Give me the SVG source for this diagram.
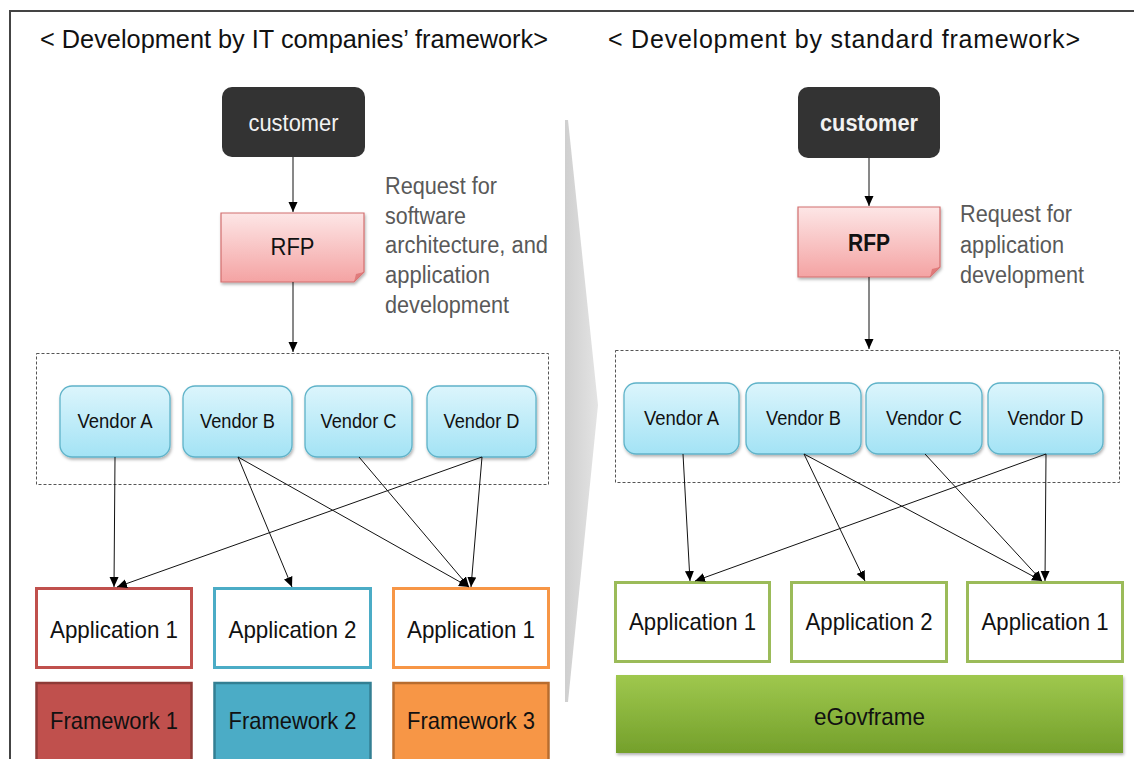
<svg xmlns="http://www.w3.org/2000/svg" width="1134" height="759" viewBox="0 0 1134 759">
<style>
text{font-family:"Liberation Sans",Arial,sans-serif;}
.title{font-size:25px;fill:#111;}
.cust{fill:#333333;}
.custt{font-size:23px;fill:#f2f2f2;text-anchor:middle;}
.rfp{fill:url(#gRfp);stroke:#d26f6f;stroke-width:1.2;}
.fold{fill:#e07b7b;}
.rfpt{font-size:23px;fill:#111;text-anchor:middle;}
.req{font-size:23px;fill:#595959;}
.dash{fill:none;stroke:#555;stroke-width:1;stroke-dasharray:3,2;}
.ven{fill:url(#gVen);stroke:#5fb3c9;stroke-width:1.3;}
.vent{font-size:20px;fill:#111;text-anchor:middle;}
.app{fill:#fff;stroke-width:3;}
.appt{font-size:24px;fill:#111;text-anchor:middle;}
.fw{stroke-width:2.5;}
.conn line{stroke:#111;stroke-width:1;marker-end:url(#ah);}
</style>
<defs>
<linearGradient id="gRfp" x1="0" y1="0" x2="0" y2="1"><stop offset="0" stop-color="#fde6e6"/><stop offset="1" stop-color="#f4a3a3"/></linearGradient>
<linearGradient id="gVen" x1="0" y1="0" x2="0" y2="1"><stop offset="0" stop-color="#dcf5fc"/><stop offset="1" stop-color="#a3e3f5"/></linearGradient>
<linearGradient id="gEgov" x1="0" y1="0" x2="0" y2="1"><stop offset="0" stop-color="#9fc84e"/><stop offset="1" stop-color="#74a02b"/></linearGradient>
<linearGradient id="gChev" x1="0" y1="0" x2="1" y2="0"><stop offset="0" stop-color="#cfcfcf"/><stop offset="1" stop-color="#e4e4e4"/></linearGradient>
<filter id="sh" x="-10%" y="-10%" width="130%" height="140%"><feDropShadow dx="1" dy="2" stdDeviation="1.5" flood-color="#000" flood-opacity="0.3"/></filter>
<marker id="ah" markerUnits="userSpaceOnUse" markerWidth="12" markerHeight="10" refX="10" refY="4.5" orient="auto"><path d="M0,0 L10,4.5 L0,9 Z" fill="#000"/></marker>
</defs>
<rect width="1134" height="759" fill="#fff"/>
<g id="frame"><path d="M1134,11 H10 V759" fill="none" stroke="#444" stroke-width="2"/></g>
<g id="divider"><polygon points="565,120 568,120 598,405 568,702 565,702" fill="url(#gChev)"/></g>
<g id="titles">
<text class="title" x="40" y="48" textLength="508" lengthAdjust="spacingAndGlyphs">&lt; Development by IT companies’ framework&gt;</text>
<text class="title" x="608" y="48" textLength="472" lengthAdjust="spacing">&lt; Development by standard framework&gt;</text>
</g>
<!-- Left side -->
<g id="l-customer"><rect class="cust" x="222" y="87" width="143" height="70" rx="10"/><text class="custt" x="293.5" y="131" textLength="90" lengthAdjust="spacingAndGlyphs">customer</text></g>
<g id="l-rfp"><path class="rfp" d="M221,213 H364 V272 L354,282 H221 Z" filter="url(#sh)"/><path class="fold" d="M364,272 L354,282 L356,274 Z"/><text class="rfpt" x="292.5" y="255" textLength="44" lengthAdjust="spacingAndGlyphs">RFP</text></g>
<g id="l-request">
<text class="req" x="385" y="194" textLength="112" lengthAdjust="spacingAndGlyphs">Request for</text>
<text class="req" x="385" y="224" textLength="81" lengthAdjust="spacingAndGlyphs">software</text>
<text class="req" x="385" y="253" textLength="163" lengthAdjust="spacingAndGlyphs">architecture, and</text>
<text class="req" x="385" y="283" textLength="105" lengthAdjust="spacingAndGlyphs">application</text>
<text class="req" x="385" y="313" textLength="124" lengthAdjust="spacingAndGlyphs">development</text>
</g>
<g id="l-vendors"><rect class="dash" x="36.5" y="353.5" width="512" height="131"/></g>
<g id="l-vendorA"><rect class="ven" x="60" y="386" width="110" height="71" rx="12" filter="url(#sh)"/><text class="vent" x="115" y="428" textLength="75" lengthAdjust="spacingAndGlyphs">Vendor A</text></g>
<g id="l-vendorB"><rect class="ven" x="183" y="386" width="109" height="71" rx="12" filter="url(#sh)"/><text class="vent" x="237.5" y="428" textLength="75" lengthAdjust="spacingAndGlyphs">Vendor B</text></g>
<g id="l-vendorC"><rect class="ven" x="305" y="386" width="107" height="71" rx="12" filter="url(#sh)"/><text class="vent" x="358.5" y="428" textLength="76" lengthAdjust="spacingAndGlyphs">Vendor C</text></g>
<g id="l-vendorD"><rect class="ven" x="427" y="386" width="109" height="71" rx="12" filter="url(#sh)"/><text class="vent" x="481.5" y="428" textLength="76" lengthAdjust="spacingAndGlyphs">Vendor D</text></g>
<g id="l-app1"><rect class="app" x="36.5" y="588.5" width="155" height="79" stroke="#c0504d"/><text class="appt" x="114" y="638" textLength="128" lengthAdjust="spacingAndGlyphs">Application 1</text></g>
<g id="l-app2"><rect class="app" x="214.5" y="588.5" width="156" height="79" stroke="#4bacc6"/><text class="appt" x="292.5" y="638" textLength="128" lengthAdjust="spacingAndGlyphs">Application 2</text></g>
<g id="l-app3"><rect class="app" x="393.5" y="588.5" width="155" height="79" stroke="#f79646"/><text class="appt" x="471" y="638" textLength="128" lengthAdjust="spacingAndGlyphs">Application 1</text></g>
<g id="l-fw1"><rect class="fw" x="36.5" y="683" width="155" height="80" fill="#c0504d" stroke="#8e3a37"/><text class="appt" x="114" y="729" textLength="128" lengthAdjust="spacingAndGlyphs">Framework 1</text></g>
<g id="l-fw2"><rect class="fw" x="214.5" y="683" width="156" height="80" fill="#4bacc6" stroke="#337f93"/><text class="appt" x="292.5" y="729" textLength="128" lengthAdjust="spacingAndGlyphs">Framework 2</text></g>
<g id="l-fw3"><rect class="fw" x="393.5" y="683" width="155" height="80" fill="#f79646" stroke="#b86c2e"/><text class="appt" x="471" y="729" textLength="128" lengthAdjust="spacingAndGlyphs">Framework 3</text></g>
<!-- Right side -->
<g id="r-customer"><rect class="cust" x="798" y="87" width="142" height="71" rx="10"/><text class="custt" x="869" y="131" font-weight="bold" textLength="98" lengthAdjust="spacingAndGlyphs">customer</text></g>
<g id="r-rfp"><path class="rfp" d="M798,207 H940 V267 L930,277 H798 Z" filter="url(#sh)"/><path class="fold" d="M940,267 L930,277 L932,269 Z"/><text class="rfpt" x="869" y="251" font-weight="bold" textLength="42" lengthAdjust="spacingAndGlyphs">RFP</text></g>
<g id="r-request">
<text class="req" x="960" y="222" textLength="112" lengthAdjust="spacingAndGlyphs">Request for</text>
<text class="req" x="960" y="253" textLength="104" lengthAdjust="spacingAndGlyphs">application</text>
<text class="req" x="960" y="283" textLength="124" lengthAdjust="spacingAndGlyphs">development</text>
</g>
<g id="r-vendors"><rect class="dash" x="615.5" y="350.5" width="504" height="132"/></g>
<g id="r-vendorA"><rect class="ven" x="624" y="383" width="115" height="71" rx="12" filter="url(#sh)"/><text class="vent" x="681.5" y="425" textLength="75" lengthAdjust="spacingAndGlyphs">Vendor A</text></g>
<g id="r-vendorB"><rect class="ven" x="746" y="383" width="115" height="71" rx="12" filter="url(#sh)"/><text class="vent" x="803.5" y="425" textLength="75" lengthAdjust="spacingAndGlyphs">Vendor B</text></g>
<g id="r-vendorC"><rect class="ven" x="866" y="383" width="116" height="71" rx="12" filter="url(#sh)"/><text class="vent" x="924" y="425" textLength="76" lengthAdjust="spacingAndGlyphs">Vendor C</text></g>
<g id="r-vendorD"><rect class="ven" x="988" y="383" width="115" height="71" rx="12" filter="url(#sh)"/><text class="vent" x="1045.5" y="425" textLength="76" lengthAdjust="spacingAndGlyphs">Vendor D</text></g>
<g id="r-app1"><rect class="app" x="615.5" y="582.5" width="154" height="79" stroke="#9bbb59"/><text class="appt" x="692.5" y="630" textLength="127" lengthAdjust="spacingAndGlyphs">Application 1</text></g>
<g id="r-app2"><rect class="app" x="791.5" y="582.5" width="155" height="79" stroke="#9bbb59"/><text class="appt" x="869" y="630" textLength="127" lengthAdjust="spacingAndGlyphs">Application 2</text></g>
<g id="r-app3"><rect class="app" x="967.5" y="582.5" width="155" height="79" stroke="#9bbb59"/><text class="appt" x="1045" y="630" textLength="127" lengthAdjust="spacingAndGlyphs">Application 1</text></g>
<g id="r-egov"><rect x="616" y="675" width="507" height="78" fill="url(#gEgov)" filter="url(#sh)"/><text class="appt" x="869.5" y="725" font-size="23" textLength="111" lengthAdjust="spacingAndGlyphs">eGovframe</text></g>
<g id="connectors" class="conn">
<line x1="293" y1="157" x2="293" y2="212"/>
<line x1="293" y1="282" x2="293" y2="352"/>
<line x1="115" y1="457" x2="114" y2="587"/>
<line x1="238" y1="457" x2="292" y2="587"/>
<line x1="238" y1="457" x2="469" y2="587"/>
<line x1="359" y1="457" x2="469" y2="587"/>
<line x1="482" y1="457" x2="117" y2="587"/>
<line x1="482" y1="457" x2="471" y2="587"/>
<line x1="869" y1="158" x2="869" y2="206"/>
<line x1="869" y1="277" x2="869" y2="349"/>
<line x1="683" y1="454" x2="690" y2="581"/>
<line x1="804" y1="454" x2="865" y2="581"/>
<line x1="804" y1="454" x2="1042" y2="581"/>
<line x1="925" y1="454" x2="1042" y2="581"/>
<line x1="1046" y1="454" x2="695" y2="581"/>
<line x1="1046" y1="454" x2="1045" y2="581"/>
</g>
</svg>
